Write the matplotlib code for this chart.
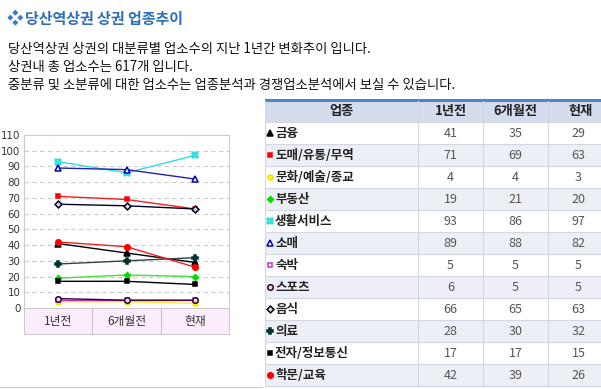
import matplotlib
matplotlib.use("Agg")
import matplotlib.pyplot as plt
from matplotlib.patches import Rectangle

plt.rcParams['font.family'] = ['Noto Sans CJK KR', 'DejaVu Sans']

# Data
periods = ["1년전", "6개월전", "현재"]
categories = ["금융", "도매/유통/무역", "문화/예술/종교", "부동산", "생활서비스", "소매",
              "숙박", "스포츠", "음식", "의료", "전자/정보통신", "학문/교육"]
values_1y = [41, 71, 4, 19, 93, 89, 5, 6, 66, 28, 17, 42]
values_6m = [35, 69, 4, 21, 86, 88, 5, 5, 65, 30, 17, 39]
values_now = [29, 63, 3, 20, 97, 82, 5, 5, 63, 32, 15, 26]
yticks = list(range(0, 111, 10))

title_text = "당산역상권 상권 업종추이"
body_lines = ["당산역상권 상권의 대분류별 업소수의 지난 1년간 변화추이 입니다.",
              "상권내 총 업소수는 617개 입니다.",
              "중분류 및 소분류에 대한 업소수는 업종분석과 경쟁업소분석에서 보실 수 있습니다."]
header = ["업종", "1년전", "6개월전", "현재"]

# style per series: line colour, marker, marker face, marker edge, marker size
styles = [
    ("#000000", "^", "#000000", "#000000", 4),
    ("#ee2222", "s", "#ff0000", "#ff0000", 3.5),
    ("#f2ee40", "o", "#ffff00", "#f0e000", 3.5),
    ("#44dd44", "D", "#00dd00", "#00dd00", 3),
    ("#33dddd", "X", "#33eeee", "#33dddd", 4.5),
    ("#2222aa", "^", "#ffffff", "#0000bb", 4.5),
    ("#bb33bb", "s", "#ffffff", "#cc33cc", 3.5),
    ("#330033", "o", "#dddddd", "#330033", 4),
    ("#000022", "D", "#dddddd", "#000022", 3.5),
    ("#334444", "P", "#003333", "#003333", 4.5),
    ("#000000", "s", "#000000", "#000000", 3.5),
    ("#ee2222", "o", "#ff0000", "#ff0000", 4),
]

W, H = 601, 389
fig = plt.figure(figsize=(W / 100, H / 100), dpi=100)


def px_axes(x0, y0, x1, y1):
    return fig.add_axes([x0 / W, 1 - y1 / H, (x1 - x0) / W, (y1 - y0) / H])


# 1) Title and description
fig.text(7 / W, 1 - 19 / H, "❖", color="#3a78c8", fontsize=12, va="center")
fig.text(25 / W, 1 - 19 / H, title_text, color="#2d6fb8", fontsize=10.8,
         fontweight="bold", va="center")
for i, line in enumerate(body_lines):
    fig.text(8 / W, 1 - (49 + 18 * i) / H, line, color="#111111", fontsize=9.6, va="center")

# 2) Line chart
ax = px_axes(24, 135, 229, 334)
ax.set_xlim(-0.5, 2.5)
ax.set_ylim(-16.5, 110)
for y in yticks[1:-1]:
    ax.axhline(y, color="#cccccc", lw=0.8, ls=(0, (4, 3)), zorder=0)
ax.axhline(0, color="#cccccc", lw=0.8, zorder=1)
for s in ax.spines.values():
    s.set_color("#cccccc")
    s.set_linewidth(0.8)
ax.add_patch(Rectangle((-0.5, -16.5), 3, 16.5, facecolor="#fcedfc", edgecolor="none", zorder=0))
for xb in (0.5, 1.5):
    ax.plot([xb, xb], [-16.5, 0], color="#d4bcd4", lw=0.8, zorder=1)
for i, p in enumerate(periods):
    ax.text(i, -8.3, p, ha="center", va="center", fontsize=8.5, color="#333333")

for i in range(len(categories)):
    lc, mk, mf, me, ms = styles[i]
    ax.plot(range(3), [values_1y[i], values_6m[i], values_now[i]], color=lc, lw=1.0,
            marker=mk, mfc=mf, mec=me, ms=ms, mew=1.1, zorder=3)

ax.set_xticks([])
ax.set_yticks(yticks)
ax.set_yticklabels([str(t) for t in yticks], fontsize=7.4, color="#333333",
                   family="DejaVu Sans")
ax.tick_params(axis="y", length=0, pad=2.5)

# 3) Table
tx = px_axes(265, 95, 601, 389)
tx.set_xlim(265, 601)
tx.set_ylim(389, 95)
tx.axis("off")
col_edges = [265, 418, 483, 548, 613]
row_h = 22
top = 100
tx.add_patch(Rectangle((265, top), 340, row_h, facecolor="#d5dcee", edgecolor="none"))
tx.plot([265, 601], [top, top], color="#4f86c8", lw=2.2)
for j, h in enumerate(header):
    tx.text((col_edges[j] + col_edges[j + 1]) / 2, top + row_h / 2 + 0.5, h, ha="center",
            va="center", fontsize=9.5, fontweight="bold", color="#222222")

rows_top = top + row_h
vals = [values_1y, values_6m, values_now]
for i, name in enumerate(categories):
    y0 = rows_top + i * row_h
    bg = "#eceff5" if i % 2 else "#ffffff"
    tx.add_patch(Rectangle((265, y0), 340, row_h, facecolor=bg, edgecolor="none"))
    tx.plot([265, 601], [y0, y0], color="#d3d7df", lw=0.8)
    lc, mk, mf, me, ms = styles[i]
    tx.plot([270], [y0 + row_h / 2], marker=mk, mfc=mf, mec=me, ms=ms, mew=1.1,
            ls="none")
    tx.text(275, y0 + row_h / 2 + 0.5, name, ha="left", va="center", fontsize=9,
            fontweight="bold", color="#222222")
    for j in range(3):
        tx.text((col_edges[j + 1] + col_edges[j + 2]) / 2 - (2 if j == 2 else 0),
                y0 + row_h / 2 + 0.5, str(vals[j][i]), ha="center", va="center",
                fontsize=9, color="#555555")
y_end = rows_top + len(categories) * row_h
tx.plot([265, 601], [y_end, y_end], color="#d3d7df", lw=0.8)
for xc in col_edges[:4]:
    tx.plot([xc, xc], [top + 1, y_end], color="#d3d7df", lw=0.8)

# bottom rule under the chart area
fig.add_artist(plt.Line2D([0, 262 / W], [1 - 387 / H, 1 - 387 / H], color="#cccccc", lw=0.8))

fig.savefig("out.png", dpi=100)
